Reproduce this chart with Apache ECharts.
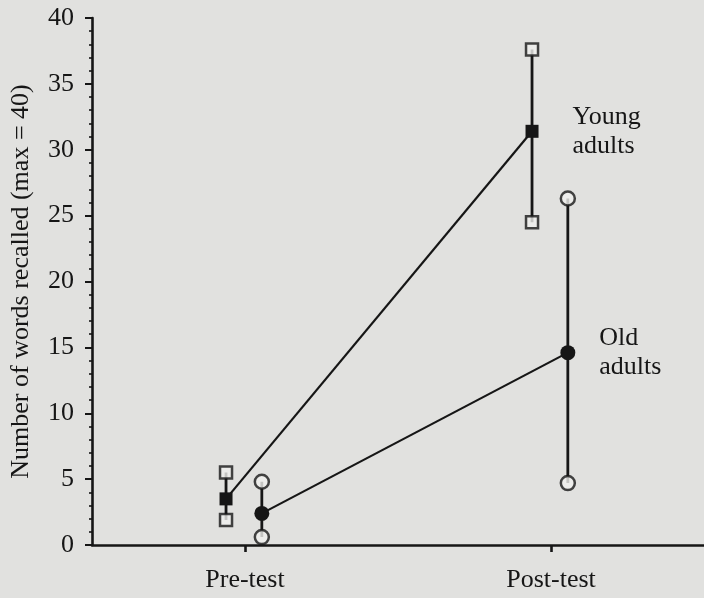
<!DOCTYPE html>
<html>
<head>
<meta charset="utf-8">
<script src="https://cdn.jsdelivr.net/npm/echarts@6/dist/echarts.min.js"></script>
<style>
html,body{margin:0;padding:0;background:#e1e1df;}
#c{width:704px;height:598px;}
</style>
</head>
<body>
<div id="c"></div>
<script>
// ---- data ----
var tests = ['Pre-test', 'Post-test'];
var testPos = [1, 2];
var youngMean = [3.5, 31.4];
var youngLow = [1.9, 24.5];
var youngHigh = [5.5, 37.6];
var oldMean = [2.4, 14.6];
var oldLow = [0.6, 4.7];
var oldHigh = [4.8, 26.3];
var groupNames = ['Young\nadults', 'Old\nadults'];
var yTicks = [0, 5, 10, 15, 20, 25, 30, 35, 40];

// ---- style ----
var FONT = '"Liberation Serif", "DejaVu Serif", serif';
var INK = '#161616';
var offYoung = -0.062, offOld = 0.055;

function errorSeries(pos, lo, hi, off, sym) {
  var out = [];
  for (var i = 0; i < pos.length; i++) {
    out.push({
      type: 'line', silent: true, z: 2,
      data: [[pos[i] + off, lo[i]], [pos[i] + off, hi[i]]],
      symbol: 'none',
      lineStyle: {color: INK, width: 2.8}
    });
    out.push({
      type: 'scatter', silent: true, z: 4,
      data: [[pos[i] + off, lo[i]], [pos[i] + off, hi[i]]],
      symbol: sym, symbolSize: sym === 'rect' ? 12 : 14,
      itemStyle: {color: '#f0f0ee', borderColor: INK, borderWidth: 2.5}
    });
  }
  return out;
}

function meanSeries(pos, mean, off, sym, name, labelDist) {
  var data = pos.map(function (p, i) {
    var d = {value: [p + off, mean[i]]};
    if (i === pos.length - 1) {
      d.label = {
        show: true, position: 'right', distance: labelDist,
        formatter: name, color: INK, fontFamily: FONT, fontSize: 26,
        lineHeight: 29, align: 'left'
      };
    }
    return d;
  });
  return {
    type: 'line', z: 5, data: data,
    symbol: sym, symbolSize: sym === 'rect' ? 13 : 15,
    itemStyle: {color: INK},
    lineStyle: {color: INK, width: 2.2}
  };
}

var series = []
  .concat(errorSeries(testPos, youngLow, youngHigh, offYoung, 'rect'))
  .concat(errorSeries(testPos, oldLow, oldHigh, offOld, 'circle'))
  .concat([meanSeries(testPos, youngMean, offYoung, 'rect', groupNames[0], 34)])
  .concat([meanSeries(testPos, oldMean, offOld, 'circle', groupNames[1], 24)]);

var chart = echarts.init(document.getElementById('c'));
chart.setOption({
  backgroundColor: '#e1e1df',
  animation: false,
  grid: {left: 89, right: 0, top: 18, bottom: 53, containLabel: false},
  xAxis: {
    type: 'value', min: 0.5, max: 2.5,
    splitLine: {show: false},
    axisLine: {lineStyle: {color: INK, width: 2.6}},
    axisTick: {show: true, customValues: testPos, length: 7, inside: false,
      lineStyle: {color: INK, width: 2.6}},
    axisLabel: {
      customValues: testPos,
      formatter: function (v) { return tests[testPos.indexOf(v)] || ''; },
      color: INK, fontFamily: FONT, fontSize: 26, margin: 22
    }
  },
  yAxis: {
    type: 'value', min: 0, max: 40, interval: 5,
    name: 'Number of words recalled (max = 40)',
    nameLocation: 'middle', nameGap: 58,
    nameTextStyle: {color: INK, fontFamily: FONT, fontSize: 26},
    splitLine: {show: false},
    axisLine: {show: true, lineStyle: {color: INK, width: 2.6}},
    axisTick: {show: true, length: 7, lineStyle: {color: INK, width: 2}},
    minorTick: {show: true, splitNumber: 5, length: 3, lineStyle: {color: INK, width: 1.6}},
    axisLabel: {
      customValues: yTicks,
      color: INK, fontFamily: FONT, fontSize: 26, margin: 18
    }
  },
  series: series
});
</script>
</body>
</html>
